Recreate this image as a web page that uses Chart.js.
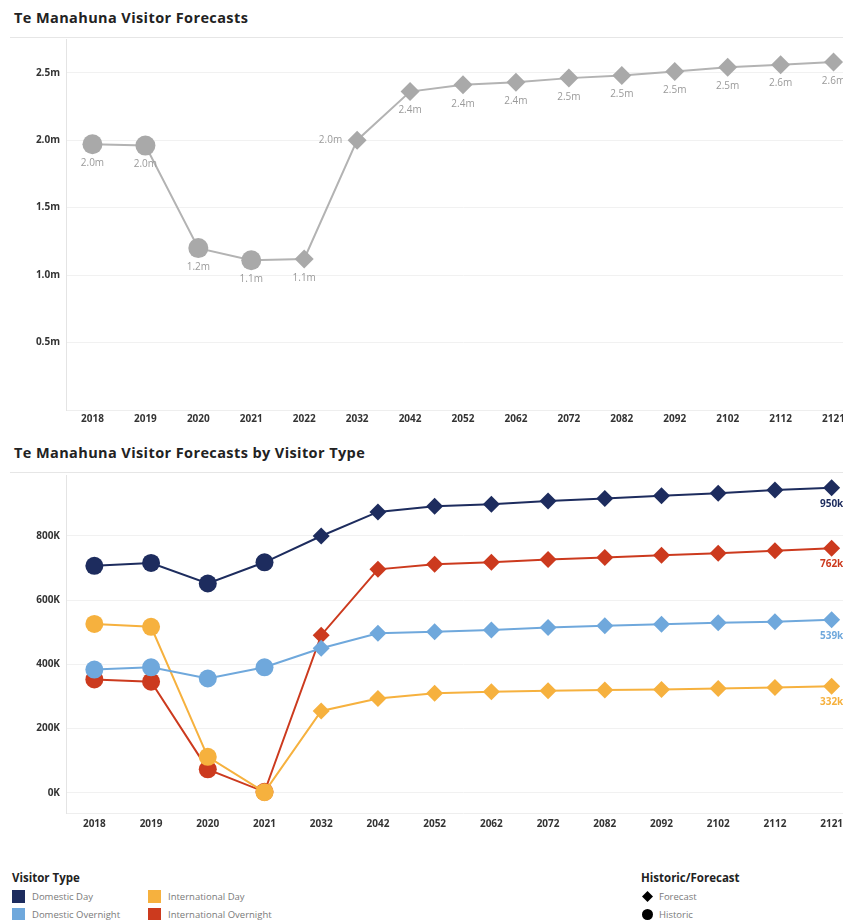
<!DOCTYPE html>
<html>
<head>
<meta charset="utf-8">
<script src="https://cdn.jsdelivr.net/npm/chart.js@4.4.1/dist/chart.umd.min.js"></script>
<style>
  html, body { margin: 0; overflow: hidden; }
  body { width: 843px; height: 920px; background: #fff; font-family: "Open Sans", sans-serif; position: relative; }
  .title { position: absolute; left: 14px; font-weight: 700; font-size: 14.5px; letter-spacing: 0.4px; color: #222; }
  .rule { position: absolute; left: 10px; width: 833px; height: 1px; background: #e6e6e6; }
  canvas { position: absolute; left: 0; }
  .legend { position: absolute; font-size: 9.5px; color: #7a7a7a; }
  .legend h4 { margin: 0 0 2px 0; font-size: 11.5px; font-weight: 700; color: #222; }
  .item { display: flex; align-items: center; height: 18px; }
  .sw { width: 13px; height: 13px; margin-right: 7px; }
  .cols { display: flex; }
  .col { width: 136px; }
</style>
</head>
<body>
<div class="title" style="top:8px">Te Manahuna Visitor Forecasts</div>
<div class="rule" style="top:37px"></div>
<canvas id="totalChart" width="860" height="391" style="top:39px"></canvas>

<div class="title" style="top:443px">Te Manahuna Visitor Forecasts by Visitor Type</div>
<div class="rule" style="top:472px"></div>
<canvas id="typeChart" width="860" height="358" style="top:475px"></canvas>

<div class="legend" style="left:12px; top:870px">
  <h4>Visitor Type</h4>
  <div class="cols">
    <div class="col">
      <div class="item"><span class="sw" style="background:#1d2c5e"></span>Domestic Day</div>
      <div class="item"><span class="sw" style="background:#6fa8dc"></span>Domestic Overnight</div>
    </div>
    <div class="col">
      <div class="item"><span class="sw" style="background:#f6b13e"></span>International Day</div>
      <div class="item"><span class="sw" style="background:#cc3a1e"></span>International Overnight</div>
    </div>
  </div>
</div>
<div class="legend" style="left:641px; top:870px">
  <h4>Historic/Forecast</h4>
  <div class="item" id="lgForecast"></div>
  <div class="item" id="lgHistoric"></div>
</div>

<script>
// TOTAL VISITORS (millions)
const years = ["2018", "2019", "2020", "2021", "2022", "2032", "2042", "2052", "2062", "2072", "2082", "2092", "2102", "2112", "2121"];
const totalPhase = ["Historic", "Historic", "Historic", "Historic", "Forecast", "Forecast", "Forecast", "Forecast", "Forecast", "Forecast", "Forecast", "Forecast", "Forecast", "Forecast", "Forecast"];
const totalVisitors = [1.97, 1.96, 1.2, 1.11, 1.12, 2.0, 2.36, 2.41, 2.43, 2.46, 2.48, 2.51, 2.54, 2.56, 2.58];
const totalTicks = [0.5, 1.0, 1.5, 2.0, 2.5];

// VISITORS BY TYPE (thousands)
const typeYears = ["2018", "2019", "2020", "2021", "2032", "2042", "2052", "2062", "2072", "2082", "2092", "2102", "2112", "2121"];
const typePhase = ["Historic", "Historic", "Historic", "Historic", "Forecast", "Forecast", "Forecast", "Forecast", "Forecast", "Forecast", "Forecast", "Forecast", "Forecast", "Forecast"];
const domesticDay = [707, 716, 652, 718, 800, 875, 893, 899, 909, 917, 925, 933, 943, 950];
const domesticOvernight = [384, 391, 356, 391, 450, 497, 502, 507, 515, 520, 525, 530, 533, 539];
const internationalDay = [526, 517, 112, 2, 255, 294, 310, 315, 318, 320, 322, 325, 328, 332];
const internationalOvernight = [353, 346, 73, 3, 491, 696, 712, 718, 727, 733, 740, 746, 754, 762];
const typeTicks = [0, 200, 400, 600, 800];

const tickFont = { family: "Open Sans", size: 10, weight: "bold" };
const styleFor = (p) => (p === "Historic" ? "circle" : "rectRot");

// draws value labels under the points
const pointLabels = {
	id: "pointLabels",
	afterDatasetsDraw(chart, args, opts) {
		const ctx = chart.ctx;
		ctx.save();
		ctx.font = opts.font;
		chart.data.datasets.forEach((ds, i) => {
			const meta = chart.getDatasetMeta(i);
			meta.data.forEach((pt, j) => {
				if (opts.onlyLast && j !== meta.data.length - 1) return;
				const text = opts.format(ds.data[j]);
				ctx.fillStyle = opts.color || ds.borderColor;
				ctx.textBaseline = "middle";
				if (opts.leftOf && opts.leftOf.includes(chart.data.labels[j])) {
					ctx.textAlign = "right";
					ctx.fillText(text, pt.x - 15, pt.y);
				} else {
					ctx.textAlign = "center";
					ctx.fillText(text, pt.x, pt.y + opts.offset);
				}
			});
		});
		ctx.restore();
	},
};

function yAxis(min, max, ticks, fmt) {
	return {
		min: min,
		max: max,
		afterBuildTicks: (scale) => {
			scale.ticks = ticks.map((v) => ({ value: v }));
		},
		afterFit: (scale) => {
			scale.width = 66;
			scale.paddingTop = 0;
			scale.paddingBottom = 0;
		},
		grid: { color: "#f1f1f1", drawTicks: false },
		border: { color: "#e4e4e4" },
		ticks: { font: tickFont, color: "#333", padding: 6, callback: fmt },
	};
}

function xAxis(pad) {
	return {
		offset: true,
		afterFit: (scale) => {
			scale.height = 20;
			scale.paddingLeft = 0;
			scale.paddingRight = 0;
		},
		grid: { display: false, drawTicks: false },
		border: { color: "#eeeeee" },
		ticks: { font: tickFont, color: "#333", padding: pad, maxRotation: 0, autoSkip: false },
	};
}

new Chart(document.getElementById("totalChart"), {
	type: "line",
	data: {
		labels: years,
		datasets: [
			{
				data: totalVisitors,
				borderColor: "#b3b3b3",
				backgroundColor: "#a9a9a9",
				borderWidth: 2,
				pointStyle: totalPhase.map(styleFor),
				pointRadius: totalPhase.map((p) => (p === "Historic" ? 10 : 9.5)),
				pointBorderWidth: 0,
			},
		],
	},
	options: {
		responsive: false,
		animation: false,
		layout: { padding: 0, autoPadding: false },
		plugins: {
			legend: { display: false },
			tooltip: { enabled: false },
			pointLabels: {
				font: "10px 'Open Sans'",
				color: "#9a9a9a",
				offset: 19,
				leftOf: ["2032"],
				format: (v) => v.toFixed(1) + "m",
			},
		},
		scales: {
			x: xAxis(3),
			y: yAxis(0, 2.75, totalTicks, (v) => v.toFixed(1) + "m"),
		},
	},
	plugins: [pointLabels],
});

function typeSet(data, color) {
	return {
		data: data,
		borderColor: color,
		backgroundColor: color,
		borderWidth: 2,
		pointStyle: typePhase.map(styleFor),
		pointRadius: typePhase.map((p) => (p === "Historic" ? 9 : 8.5)),
		pointBorderWidth: 0,
	};
}

new Chart(document.getElementById("typeChart"), {
	type: "line",
	data: {
		labels: typeYears,
		datasets: [
			typeSet(domesticDay, "#1d2c5e"),
			typeSet(domesticOvernight, "#6fa8dc"),
			typeSet(internationalDay, "#f6b13e"),
			typeSet(internationalOvernight, "#cc3a1e"),
		],
	},
	options: {
		responsive: false,
		animation: false,
		layout: { padding: 0, autoPadding: false },
		plugins: {
			legend: { display: false },
			tooltip: { enabled: false },
			pointLabels: {
				font: "bold 10px 'Open Sans'",
				offset: 16,
				onlyLast: true,
				format: (v) => v + "k",
			},
		},
		scales: {
			x: xAxis(5),
			y: yAxis(-63, 990, typeTicks, (v) => v + "K"),
		},
	},
	plugins: [pointLabels],
});

// legend marks for historic / forecast
document.getElementById("lgForecast").innerHTML =
	'<svg width="13" height="13" style="margin-right:5px"><path d="M6.5 1 L12 6.5 L6.5 12 L1 6.5 Z" fill="#000"/></svg>Forecast';
document.getElementById("lgHistoric").innerHTML =
	'<svg width="13" height="13" style="margin-right:5px"><circle cx="6.5" cy="6.5" r="5.5" fill="#000"/></svg>Historic';
</script>
</body>
</html>
